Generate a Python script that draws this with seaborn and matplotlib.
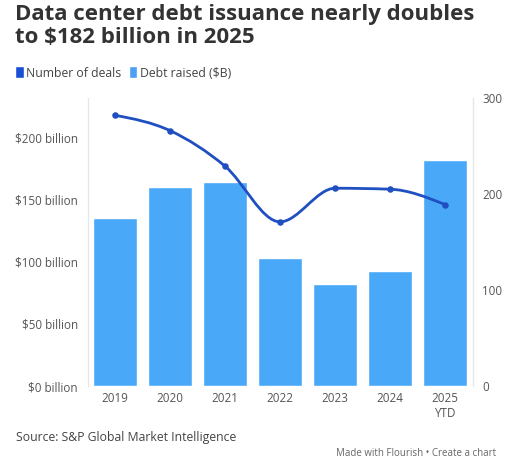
import numpy as np
import pandas as pd
import seaborn as sns
import matplotlib.pyplot as plt
from matplotlib.path import Path
from matplotlib.patches import PathPatch, Patch

# values
years = ['2019', '2020', '2021', '2022', '2023', '2024', '2025\nYTD']
debt_raised = [135, 160, 164, 103, 82, 93, 182]   # $B
num_deals = [282, 266, 229, 171, 206, 205, 189]
left_ticks = [0, 50, 100, 150, 200]
right_ticks = [0, 100, 200, 300]

bar_color = '#4aa8f8'
line_color = '#1f4fc0'
text_color = '#555555'


def monotone_path(xs, ys):
    # d3 curveMonotoneX as cubic bezier segments
    xs = np.asarray(xs, float)
    ys = np.asarray(ys, float)
    n = len(xs)
    s = np.diff(ys) / np.diff(xs)
    t = np.zeros(n)
    for i in range(1, n - 1):
        h0, h1 = xs[i] - xs[i - 1], xs[i + 1] - xs[i]
        p = (s[i - 1] * h1 + s[i] * h0) / (h0 + h1)
        t[i] = (np.sign(s[i - 1]) + np.sign(s[i])) * min(abs(s[i - 1]), abs(s[i]), 0.5 * abs(p))
    t[0] = (3 * s[0] - t[1]) / 2
    t[-1] = (3 * s[-1] - t[-2]) / 2
    verts = [(xs[0], ys[0])]
    codes = [Path.MOVETO]
    for i in range(n - 1):
        dx = (xs[i + 1] - xs[i]) / 3
        verts += [(xs[i] + dx, ys[i] + t[i] * dx),
                  (xs[i + 1] - dx, ys[i + 1] - t[i + 1] * dx),
                  (xs[i + 1], ys[i + 1])]
        codes += [Path.CURVE4] * 3
    return Path(verts, codes)


sns.set_theme(style='white')
plt.rcParams['font.family'] = ['Open Sans', 'DejaVu Sans']

W, H = 507, 467
fig = plt.figure(figsize=(W / 100, H / 100), dpi=100)
ax = fig.add_axes([87.5 / W, (H - 386) / H, 385 / W, 288 / H])

df = pd.DataFrame({'year': years, 'debt': debt_raised, 'deals': num_deals})
sns.barplot(data=df, x='year', y='debt', color=bar_color, saturation=1,
            width=0.8, ax=ax)
ax.set_xlim(-0.5, len(years) - 0.5)
ax.set_ylim(0, 232)
ax.set_yticks(left_ticks)
ax.set_yticklabels([f'${v} billion' for v in left_ticks])
ax.set_xlabel('')
ax.set_ylabel('')
ax.tick_params(axis='both', length=0, labelsize=8.4, labelcolor=text_color)
ax.tick_params(axis='y', pad=7)
ax.tick_params(axis='x', pad=4)

ax2 = ax.twinx()
ax2.set_ylim(0, 300)
ax2.set_yticks(right_ticks)
ax2.tick_params(axis='y', length=0, labelsize=8.4, labelcolor=text_color, pad=7)
pos = np.arange(len(years))
ax2.add_patch(PathPatch(monotone_path(pos, num_deals), fill=False,
                        edgecolor=line_color, lw=2, capstyle='round'))
ax2.scatter(pos, num_deals, s=22, color=line_color, zorder=3, linewidths=0)

for a in (ax, ax2):
    for side in ('top', 'bottom'):
        a.spines[side].set_visible(False)
    for side in ('left', 'right'):
        a.spines[side].set_color('#e6e6e6')
        a.spines[side].set_linewidth(0.8)

fig.text(15 / W, 1 - 4 / H,
         'Data center debt issuance nearly doubles\nto $182 billion in 2025',
         ha='left', va='top', fontsize=16, fontweight='bold', color='#333333',
         linespacing=1.1)

handles = [Patch(facecolor='#1a4fd6', label='Number of deals'),
           Patch(facecolor='#4aa0f5', label='Debt raised ($B)')]
fig.legend(handles=handles, loc='center left', bbox_to_anchor=(15 / W, 1 - 73 / H),
           ncol=2, frameon=False, handlelength=0.7, handleheight=1.1,
           handletextpad=0.2, columnspacing=0.6, fontsize=8.8,
           labelcolor='#444444', borderaxespad=0, borderpad=0)

fig.text(16 / W, 1 - 437 / H, 'Source: S&P Global Market Intelligence',
         ha='left', va='center', fontsize=8.8, color='#444444')
fig.text(496 / W, 1 - 454 / H, 'Made with Flourish \u2022 Create a chart',
         ha='right', va='center', fontsize=7, color='#666666')

fig.savefig('out.png', dpi=100)
